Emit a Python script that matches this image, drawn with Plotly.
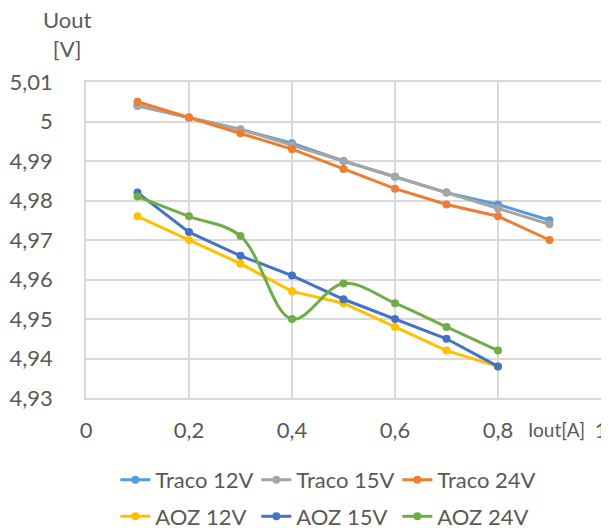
import plotly.graph_objects as go

iout = [0.1, 0.2, 0.3, 0.4, 0.5, 0.6, 0.7, 0.8, 0.9]
iout_aoz = [0.1, 0.2, 0.3, 0.4, 0.5, 0.6, 0.7, 0.8]

traco_12v = [5.004, 5.001, 4.998, 4.9945, 4.990, 4.986, 4.982, 4.979, 4.975]
traco_15v = [5.004, 5.001, 4.998, 4.994, 4.990, 4.986, 4.982, 4.978, 4.974]
traco_24v = [5.005, 5.001, 4.997, 4.993, 4.988, 4.983, 4.979, 4.976, 4.970]

aoz_12v = [4.976, 4.970, 4.964, 4.957, 4.954, 4.948, 4.942, 4.938]
aoz_15v = [4.982, 4.972, 4.966, 4.961, 4.955, 4.950, 4.945, 4.938]
aoz_24v = [4.981, 4.976, 4.971, 4.950, 4.959, 4.954, 4.948, 4.942]

x_tickvals = [0, 0.2, 0.4, 0.6, 0.8, 1]
x_ticktext = ["0", "0,2", "0,4", "0,6", "0,8", "1"]
y_tickvals = [4.93, 4.94, 4.95, 4.96, 4.97, 4.98, 4.99, 5.00, 5.01]
y_ticktext = ["4,93", "4,94", "4,95", "4,96", "4,97", "4,98", "4,99", "5", "5,01"]

FONT = "Lato"
TXT = "#595959"
GRID = "#d9d9d9"

series = [
    ("Traco 12V", iout, traco_12v, "#5B9BD5", "linear", "legend"),
    ("Traco 15V", iout, traco_15v, "#A5A5A5", "linear", "legend"),
    ("Traco 24V", iout, traco_24v, "#ED7D31", "linear", "legend"),
    ("AOZ 12V", iout_aoz, aoz_12v, "#FFC000", "linear", "legend2"),
    ("AOZ 15V", iout_aoz, aoz_15v, "#4472C4", "linear", "legend2"),
    ("AOZ 24V", iout_aoz, aoz_24v, "#70AD47", "spline", "legend2"),
]

fig = go.Figure()
for name, xs, ys, color, shape, leg in series:
    fig.add_trace(go.Scatter(
        x=xs, y=ys, name=name, mode="lines+markers",
        line=dict(color=color, width=3, shape=shape),
        marker=dict(color=color, size=8, symbol="circle"),
        legend=leg,
    ))

legend_common = dict(
    orientation="h", xref="paper", yref="paper", xanchor="left", yanchor="middle",
    font=dict(family=FONT, size=22, color=TXT), entrywidth=96,
    bgcolor="rgba(0,0,0,0)", itemwidth=30, tracegroupgap=0,
)

# The page body adds an 8px margin, so the figure is shifted 8px right/down in the window
fig.update_layout(
    width=609, height=528,
    margin=dict(l=78, r=16, t=74, b=138, autoexpand=False),
    plot_bgcolor="white", paper_bgcolor="white",
    separators=", ",
    font=dict(family=FONT, size=20, color=TXT),
    showlegend=True,
    legend=dict(x=0.057, y=-0.259, **legend_common),
    legend2=dict(x=0.057, y=-0.375, **legend_common),
    xaxis=dict(
        range=[0, 1], tickvals=x_tickvals, ticktext=x_ticktext,
        showgrid=True, gridcolor=GRID, gridwidth=1.5,
        showline=True, linecolor=GRID, linewidth=1.5, mirror=True,
        zeroline=False, automargin=False,
        ticks="outside", ticklen=12, tickcolor="rgba(0,0,0,0)",
        tickfont=dict(family=FONT, size=22, color=TXT),
    ),
    yaxis=dict(
        range=[4.93, 5.01], tickvals=y_tickvals, ticktext=y_ticktext,
        showgrid=True, gridcolor=GRID, gridwidth=1.5,
        showline=True, linecolor=GRID, linewidth=1.5, mirror=True,
        zeroline=False, automargin=False,
        ticks="outside", ticklen=27, tickcolor="rgba(0,0,0,0)",
        tickfont=dict(family=FONT, size=22, color=TXT),
    ),
    annotations=[
        dict(text="Uout<br>[V]", xref="paper", yref="paper", x=-0.035, y=1.152,
             xanchor="center", yanchor="middle", showarrow=False, align="center",
             font=dict(family=FONT, size=22, color=TXT)),
        dict(text="Iout[A]", xref="paper", yref="paper", x=0.914, y=-0.101,
             xanchor="center", yanchor="middle", showarrow=False,
             font=dict(family=FONT, size=19, color=TXT)),
    ],
)

fig.write_html("out.html")
